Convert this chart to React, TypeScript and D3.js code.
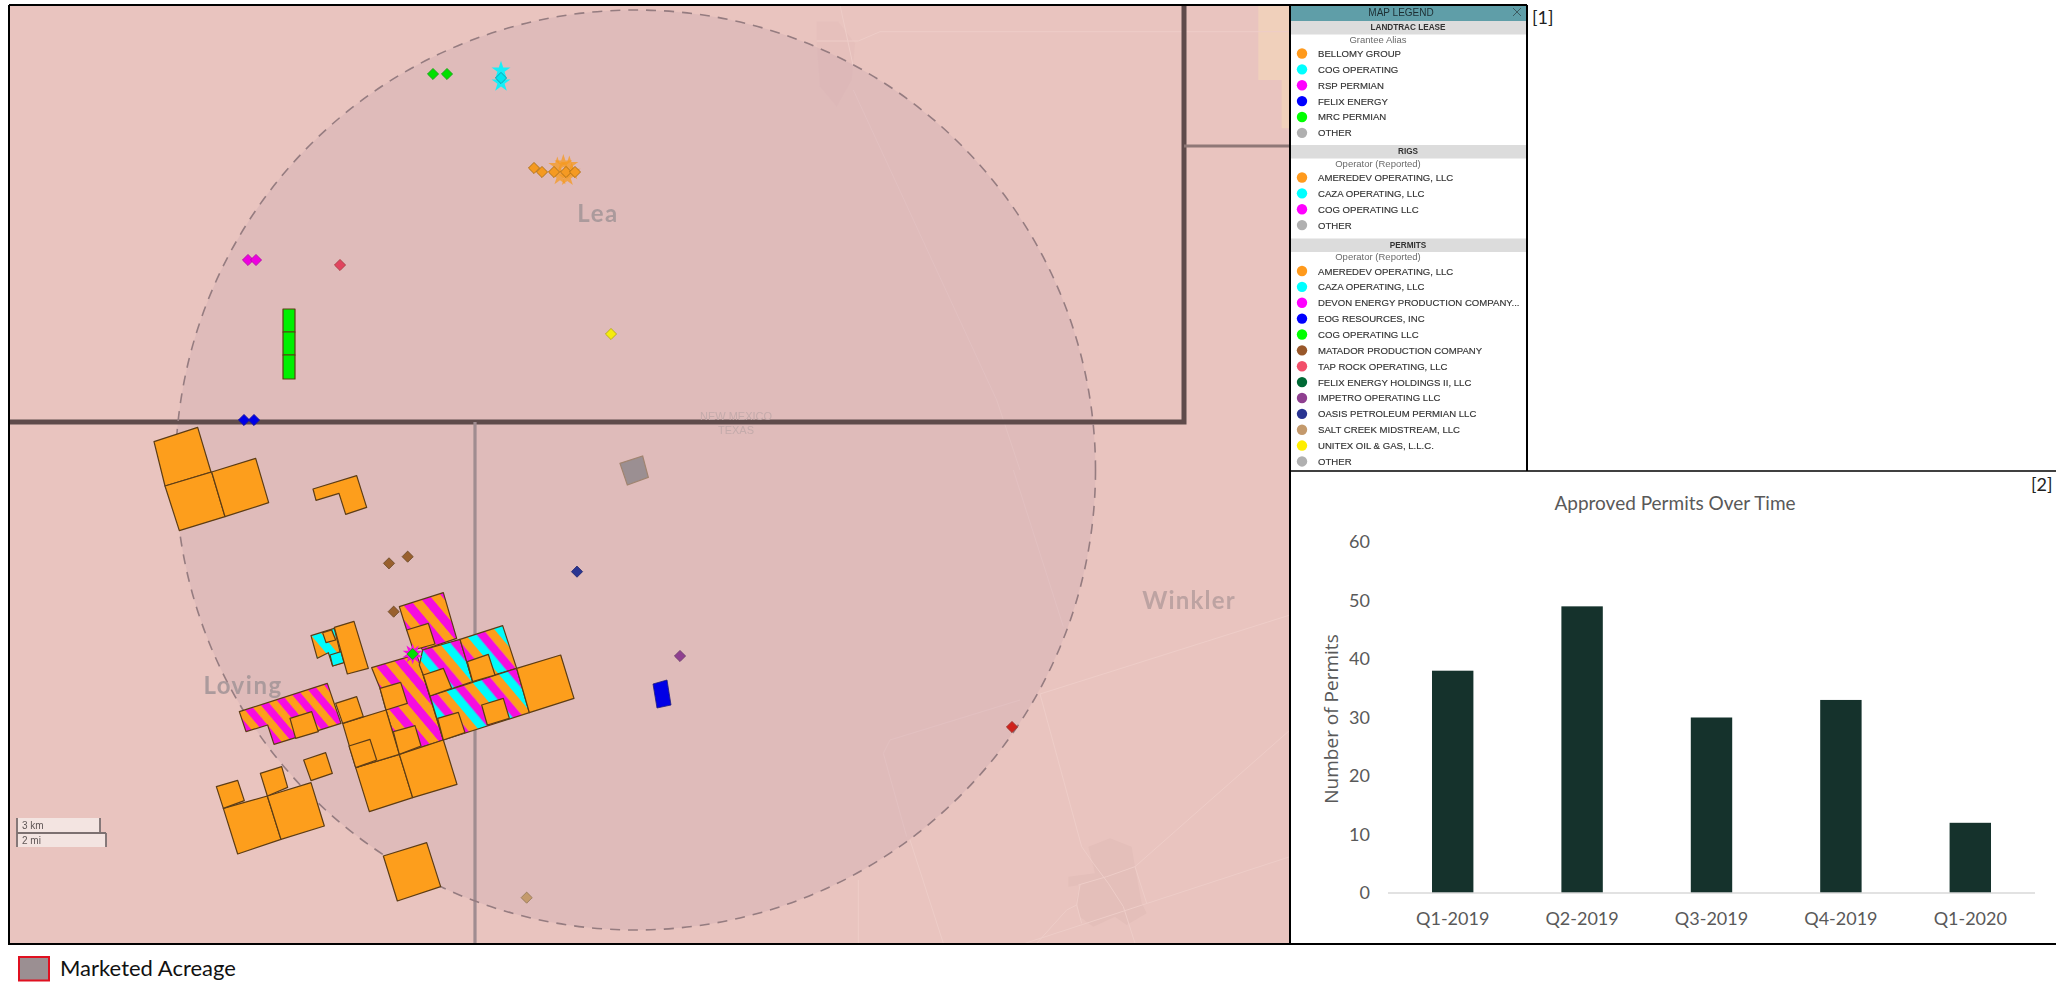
import React from "react";
import * as d3 from "d3";

type Pt = [number, number];

// ---- bar chart data
const quarters = ["Q1-2019", "Q2-2019", "Q3-2019", "Q4-2019", "Q1-2020"];
const permitCounts = [38, 49, 30, 33, 12];
const yTicks = [0, 10, 20, 30, 40, 50, 60];

// ---- legend data
const leaseLabels = ["BELLOMY GROUP", "COG OPERATING", "RSP PERMIAN", "FELIX ENERGY", "MRC PERMIAN", "OTHER"];
const leaseColors = ["#ff9a1f", "#00ffff", "#ff00ff", "#0000ff", "#00ff00", "#b0b0b0"];
const rigLabels = ["AMEREDEV OPERATING, LLC", "CAZA OPERATING, LLC", "COG OPERATING LLC", "OTHER"];
const rigColors = ["#ff9a1f", "#00ffff", "#ff00ff", "#b0b0b0"];
const permitLabels = [
  "AMEREDEV OPERATING, LLC", "CAZA OPERATING, LLC", "DEVON ENERGY PRODUCTION COMPANY...", "EOG RESOURCES, INC",
  "COG OPERATING LLC", "MATADOR PRODUCTION COMPANY", "TAP ROCK OPERATING, LLC", "FELIX ENERGY HOLDINGS II, LLC",
  "IMPETRO OPERATING LLC", "OASIS PETROLEUM PERMIAN LLC", "SALT CREEK MIDSTREAM, LLC", "UNITEX OIL & GAS, L.L.C.", "OTHER",
];
const permitColors = ["#ff9a1f", "#00ffff", "#ff00ff", "#0000ff", "#00ff00", "#99582a", "#f2506a", "#006a36", "#8f3f90", "#2b3492", "#c49a6c", "#ffee00", "#b0b0b0"];

// ---- map geometry, in survey grid units
const bellomySolid: Pt[][] = [
  [[12, 65], [143, 22], [183, 156], [45, 198]],
  [[45, 198], [185, 156], [225, 290], [88, 332]],
  [[185, 156], [317, 115], [356, 248], [225, 290]],
  [[489, 207], [620, 167], [650, 262], [587, 283], [567, 220], [498, 241]],
  [[700, 1308], [830, 1268], [872, 1400], [742, 1443]],
  [[220, 1165], [352, 1128], [393, 1258], [263, 1302]],
  [[352, 1128], [483, 1088], [523, 1218], [393, 1258]],
  [[199, 1100], [263, 1081], [283, 1142], [220, 1165]],
  [[331, 1060], [395, 1040], [413, 1102], [352, 1128]],
  [[461, 1020], [527, 998], [547, 1060], [483, 1082]],
  [[617, 1043], [748, 1003], [788, 1133], [658, 1175]],
  [[748, 1003], [880, 960], [921, 1093], [788, 1133]],
  [[578, 910], [708, 870], [748, 1003], [617, 1043]],
  [[557, 850], [620, 830], [640, 890], [578, 910]],
  [[1100, 745], [1232, 705], [1272, 835], [1138, 878]],
  [[553, 622], [612, 604], [655, 745], [592, 762]],
];
const westStriped: Pt[][] = [
  [[268, 875], [532, 790], [573, 910], [437, 953], [372, 973], [353, 915], [288, 935]],
];
const centralStriped: Pt[][] = [
  [[665, 743], [800, 703], [880, 960], [748, 1003], [708, 870], [690, 805]],
];
const northStriped: Pt[][] = [
  [[748, 560], [880, 518], [920, 655], [818, 690], [770, 630]],
];
const eastStriped: Pt[][] = [
  [[818, 690], [930, 658], [968, 785], [840, 828], [820, 765], [808, 735]],
  [[930, 658], [1058, 617], [1100, 745], [968, 785]],
  [[840, 828], [1100, 745], [1138, 878], [880, 960]],
];
const cogSmall: Pt[][] = [
  [[483, 647], [553, 625], [578, 728], [548, 738], [535, 698], [502, 715]],
];
const overlaySquares: Pt[][] = [
  [[420, 895], [485, 875], [505, 935], [437, 955]],
  [[690, 805], [752, 787], [772, 850], [708, 870]],
  [[730, 935], [795, 917], [813, 978], [748, 1003]],
  [[597, 978], [660, 958], [680, 1020], [617, 1043]],
  [[770, 630], [835, 610], [855, 672], [790, 690]],
  [[820, 765], [880, 745], [905, 805], [840, 828]],
  [[952, 725], [1015, 703], [1035, 765], [968, 785]],
  [[995, 855], [1060, 835], [1078, 895], [1012, 915]],
  [[863, 895], [925, 877], [945, 938], [880, 960]],
  [[518, 638], [545, 630], [557, 660], [528, 668]],
];
const cogCorner: Pt[][] = [[[540, 705], [573, 695], [582, 728], [548, 738]]];
const marketedTract: Pt[] = [[1410, 130], [1478, 108], [1495, 172], [1432, 195]];
const mrcBlocks: Pt[][] = [
  [[399, -333], [435, -333], [435, -264], [399, -264]],
  [[399, -264], [435, -264], [435, -195], [399, -195]],
  [[399, -195], [435, -195], [435, -123], [399, -123]],
];
const felixTract: Pt[] = [[1509, 792], [1551, 780], [1563, 855], [1521, 864]];

// permit wells: [x, y] per operator
const wellsCog: Pt[] = [[849, -1038], [891, -1038]];
const wellsCaza: Pt[] = [[1053, -1026]];
const wellsAmeredev: Pt[] = [[1152, -756], [1176, -744], [1212, -744], [1248, -744], [1275, -744]];
const wellsDevon: Pt[] = [[294, -480], [318, -480]];
const wellsTapRock: Pt[] = [[570, -465]];
const wellsUnitex: Pt[] = [[1383, -258]];
const wellsEog: Pt[] = [[282, 0], [312, 0]];
const wellsMatador: Pt[] = [[717, 430], [773, 410], [731, 575]];
const wellsOasis: Pt[] = [[1281, 455]];
const wellsImpetro: Pt[] = [[1590, 708]];
const wellsSalt: Pt[] = [[1130, 1433]];
const wellsRed: Pt[] = [[2586, 921]];
const wellsCenter: Pt[] = [[788, 702]];
const rigsAmeredev: Pt[] = [[1222, -762], [1240, -770], [1258, -765], [1230, -730], [1252, -728], [1265, -745]];
const rigsCaza: Pt[] = [[1053, -1048], [1053, -1012]];
const rigsCog: Pt[] = [[788, 702]];

// basemap roads, in survey grid units of the east sheet
const roadsEast: Pt[][] = [
  [[780, 672], [1530, 435]],
  [[780, 672], [905, 1130], [940, 1180], [985, 1240], [1030, 1310], [1065, 1420]],
  [[1530, 780], [1065, 1190], [1100, 1300]],
  [[895, 1245], [980, 1220], [1065, 1190]],
  [[735, 1420], [1530, 1160]],
  [[770, 1420], [860, 1320], [890, 1305]],
  [[900, 1245], [890, 1305], [905, 1360]],
  [[390, 1110], [490, 1420]],
  [[235, 1230], [235, 1420]],
  [[700, 0], [850, 470]],
  [[720, 690], [330, 810], [310, 850], [380, 1100]],
];
const townEast: Pt[][] = [
  [[925, 1130], [990, 1105], [1055, 1130], [1065, 1190], [1085, 1300], [1100, 1330], [1040, 1365], [1005, 1340], [940, 1370], [900, 1340], [890, 1290], [900, 1245], [865, 1250], [865, 1220], [945, 1210]],
];
const roadsNorth: Pt[][] = [
  [[180, 15], [220, 200]],
  [[110, 123], [235, 123], [300, 95], [1530, 95]],
  [[220, 270], [650, 1200], [720, 1410]],
];
const townNorth: Pt[][] = [[[110, 65], [175, 65], [225, 130], [215, 240], [170, 320], [120, 260], [110, 125]]];
const peachNorth: Pt[][] = [[[1435, 15], [1530, 15], [1530, 385], [1505, 385], [1505, 240], [1435, 240]]];

// ---- scales
const gridX = d3.scaleLinear().domain([0, 1500]).range([150, 650]);
const gridY = d3.scaleLinear().domain([0, 1500]).range([420, 920]);
const eastX = d3.scaleLinear().domain([0, 1545]).range([780, 1295]);
const eastY = d3.scaleLinear().domain([0, 1440]).range([470, 950]);
const northY = d3.scaleLinear().domain([0, 1410]).range([0, 470]);
const barX = d3.scaleBand<string>().domain(quarters).range([1388, 2035]).paddingInner(0.68).paddingOuter(0.34);
const barY = d3.scaleLinear().domain([0, 60]).range([893, 542]);

const gridPath = d3.line<Pt>().x((d) => gridX(d[0])).y((d) => gridY(d[1]));
const closeGrid = (p: Pt[]) => gridPath(p) + "Z";
const eastPath = d3.line<Pt>().x((d) => eastX(d[0])).y((d) => eastY(d[1]));
const northPath = d3.line<Pt>().x((d) => eastX(d[0])).y((d) => northY(d[1]));

const diamond = d3.symbol().type(d3.symbolSquare).size(62)() as string;
const starFor = (s: number) => d3.symbol().type(d3.symbolStar).size(s)() as string;

const TRACT = "#5c3c14";
const ORANGE = "#fd9e1d";
const MAGENTA = "#f50fe0";
const CYAN = "#00fbfb";
const SANS = "'Liberation Sans', Arial, sans-serif";
const CAL = "Lato, 'Open Sans', sans-serif";

function Stripes({ id, tx, period, colors }: { id: string; tx: number; period: number; colors: string[] }) {
  const w = period / colors.length;
  return (
    <pattern id={id} patternUnits="userSpaceOnUse" width={period} height={10} patternTransform={`rotate(-40) translate(${tx},0)`}>
      {colors.map((c, i) => (
        <rect key={i} x={i * w} y={0} width={w + 0.3} height={10} fill={c} />
      ))}
    </pattern>
  );
}

function Tracts({ polys, fill }: { polys: Pt[][]; fill: string }) {
  return (
    <g fill={fill} stroke={TRACT} strokeWidth={1.2} strokeLinejoin="round">
      {polys.map((p, i) => (
        <path key={i} d={closeGrid(p)} />
      ))}
    </g>
  );
}

function Wells({ pts, color, edge }: { pts: Pt[]; color: string; edge: string }) {
  return (
    <g fill={color} stroke={edge} strokeWidth={0.8}>
      {pts.map((p, i) => (
        <path key={i} d={diamond} transform={`translate(${gridX(p[0])},${gridY(p[1])}) rotate(45)`} />
      ))}
    </g>
  );
}

function Rigs({ pts, color, opacity, size, turn = 0 }: { pts: Pt[]; color: string; opacity: number; size: number; turn?: number }) {
  const star = starFor(size);
  return (
    <g fill={color} fillOpacity={opacity}>
      {pts.map((p, i) => (
        <path key={i} d={star} transform={`translate(${gridX(p[0])},${gridY(p[1])}) rotate(${turn})`} />
      ))}
    </g>
  );
}

function LegendSection({ title, sub, labels, colors, top, subX }: { title: string; sub: string; labels: string[]; colors: string[]; top: number; subX: number }) {
  const STEP = 15.87;
  return (
    <g>
      <rect x={1291} y={top} width={236} height={13.5} fill="#dcdcdc" />
      <text x={1408} y={top + 9} textAnchor="middle" fontFamily={SANS} fontSize={8.2} fontWeight={700} fill="#333">{title}</text>
      <text x={subX} y={top + 21.5} textAnchor="middle" fontFamily={SANS} fontSize={9.5} fill="#6a6a6a">{sub}</text>
      {labels.map((l, i) => {
        const cy = top + 32.5 + i * STEP;
        return (
          <g key={l + i}>
            <circle cx={1302} cy={cy} r={5.2} fill={colors[i]} />
            <text x={1318} y={cy + 3.5} fontFamily={SANS} fontSize={9.6} fill="#333" stroke="#333" strokeWidth={0.15}>{l}</text>
          </g>
        );
      })}
    </g>
  );
}

export default function App() {
  return (
    <svg width={2056} height={983} viewBox="0 0 2056 983" style={{ position: "absolute", left: 0, top: 0, display: "block", background: "#fff" }}>
      <defs>
        <clipPath id="mapClip"><rect x={9} y={6} width={1281} height={938} /></clipPath>
        <filter id="soft" x="0" y="0" width="1" height="1"><feGaussianBlur stdDeviation={0.45} /></filter>
        <filter id="softer" x="0" y="0" width="1" height="1"><feGaussianBlur stdDeviation={0.25} /></filter>
        <Stripes id="stripeWest" tx={6.7} period={15.3} colors={[MAGENTA, ORANGE]} />
        <Stripes id="stripeCentral" tx={0.5} period={17.6} colors={[MAGENTA, ORANGE]} />
        <Stripes id="stripeNorth" tx={7.9} period={17.6} colors={[MAGENTA, ORANGE]} />
        <Stripes id="stripeEast" tx={-0.3} period={25.5} colors={[CYAN, MAGENTA, ORANGE]} />
        <Stripes id="stripeCog" tx={6} period={17.6} colors={[CYAN, ORANGE]} />
      </defs>

      {/* map */}
      <g clipPath="url(#mapClip)" filter="url(#soft)">
        <rect x={9} y={6} width={1281} height={938} fill="#e9c4bf" />
        {peachNorth.map((p, i) => <path key={i} d={northPath(p) + "Z"} fill="#f0d0bb" />)}
        {townNorth.map((p, i) => <path key={i} d={northPath(p) + "Z"} fill="#e3bdb8" opacity={0.45} />)}
        {townEast.map((p, i) => <path key={i} d={eastPath(p) + "Z"} fill="#e4bfba" />)}
        <g fill="none" stroke="#eecdc8" strokeWidth={1}>
          {roadsEast.map((p, i) => <path key={i} d={eastPath(p) as string} />)}
          {roadsNorth.map((p, i) => <path key={i} d={northPath(p) as string} />)}
        </g>

        <circle cx={635.5} cy={470} r={460} fill="#c9a9b0" fillOpacity={0.32} />

        <g fill="none" stroke="#5e4c4c">
          <path d="M9,422H1184V6" strokeWidth={5} />
          <path d="M1184,146H1290" strokeWidth={3} stroke="#8f7877" />
          <path d="M475,422V944" strokeWidth={3.2} stroke="#a08c90" />
        </g>
        <circle cx={635.5} cy={470} r={460} fill="none" stroke="#957c80" strokeWidth={1.6} strokeDasharray="10 8" />

        <text x={598} y={222} textAnchor="middle" fontFamily={CAL} fontSize={24} fontWeight={700} letterSpacing={1.5} fill="#ab9a9c">Lea</text>
        <text x={243} y={694} textAnchor="middle" fontFamily={CAL} fontSize={24} fontWeight={700} letterSpacing={1.5} fill="#ab9a9c">Loving</text>
        <text x={1189} y={609} textAnchor="middle" fontFamily={CAL} fontSize={24} fontWeight={700} letterSpacing={1.2} fill="#bda3a2">Winkler</text>
        <text x={736} y={420} textAnchor="middle" fontFamily={SANS} fontSize={11} fill="#c4abab">NEW MEXICO</text>
        <text x={736} y={434} textAnchor="middle" fontFamily={SANS} fontSize={11} fill="#c4abab">TEXAS</text>

        <Tracts polys={westStriped} fill="url(#stripeWest)" />
        <Tracts polys={centralStriped} fill="url(#stripeCentral)" />
        <Tracts polys={northStriped} fill="url(#stripeNorth)" />
        <Tracts polys={eastStriped} fill="url(#stripeEast)" />
        <Tracts polys={cogSmall} fill="url(#stripeCog)" />
        <Tracts polys={cogCorner} fill={CYAN} />
        <Tracts polys={bellomySolid} fill={ORANGE} />
        <Tracts polys={overlaySquares} fill={ORANGE} />
        <Tracts polys={mrcBlocks} fill="#00f000" />
        <path d={closeGrid(felixTract)} fill="#0000e6" stroke="#20207a" strokeWidth={0.8} />
        <path d={closeGrid(marketedTract)} fill="#9b8f92" stroke="#a08470" strokeWidth={1.2} />

        <Rigs pts={rigsCaza} color="#00f5ff" opacity={0.9} size={110} />
        <Rigs pts={rigsAmeredev} color="#f59a20" opacity={0.75} size={100} />
        <Rigs pts={rigsCog} color={MAGENTA} opacity={1} size={125} />
        <Rigs pts={rigsCog} color={MAGENTA} opacity={1} size={125} turn={36} />

        <Wells pts={wellsCog} color="#00e000" edge="#1d9a1d" />
        <Wells pts={wellsCaza} color="#00e8f0" edge="#1090a0" />
        <Wells pts={wellsAmeredev} color="#f59a20" edge="#a86a10" />
        <Wells pts={wellsDevon} color="#ee00e0" edge="#b010a0" />
        <Wells pts={wellsTapRock} color="#e0455f" edge="#a83a40" />
        <Wells pts={wellsUnitex} color="#f5ec10" edge="#b0a810" />
        <Wells pts={wellsEog} color="#0000e8" edge="#1010a0" />
        <Wells pts={wellsMatador} color="#99602e" edge="#6a4a2a" />
        <Wells pts={wellsOasis} color="#2b3492" edge="#23296e" />
        <Wells pts={wellsImpetro} color="#8f3f90" edge="#6a3a6a" />
        <Wells pts={wellsSalt} color="#c49a6c" edge="#957a5a" />
        <Wells pts={wellsRed} color="#d0221e" edge="#9a2a26" />
        <Wells pts={wellsCenter} color="#00e000" edge="#1d9a1d" />

        {/* scale bar */}
        <rect x={18} y={818} width={82} height={15} fill="#f3e4e1" />
        <rect x={18} y={834} width={88} height={13} fill="#f3e4e1" />
        <path d="M17,818V847M17,833H106M100,818V833M106,833V847" fill="none" stroke="#7b6f70" strokeWidth={1.8} />
        <text x={22} y={829} fontFamily={SANS} fontSize={10} fill="#5f5656">3 km</text>
        <text x={22} y={844} fontFamily={SANS} fontSize={10} fill="#5f5656">2 mi</text>
      </g>

      {/* legend */}
      <g filter="url(#softer)">
        <rect x={1291} y={6} width={236} height={15} fill="#5f9ea8" />
        <text x={1401} y={15.6} textAnchor="middle" fontFamily={SANS} fontSize={10} fill="#1e2e33">MAP LEGEND</text>
        <path d="M1513,8L1521,16M1521,8L1513,16" stroke="#33494f" strokeWidth={0.8} />
        <LegendSection title="LANDTRAC LEASE" sub="Grantee Alias" labels={leaseLabels} colors={leaseColors} top={21} subX={1378} />
        <LegendSection title="RIGS" sub="Operator (Reported)" labels={rigLabels} colors={rigColors} top={145} subX={1378} />
        <LegendSection title="PERMITS" sub="Operator (Reported)" labels={permitLabels} colors={permitColors} top={238.5} subX={1378} />
      </g>

      {/* frames */}
      <g fill="none" stroke="#000" strokeWidth={2}>
        <path d="M9,5H1527" />
        <path d="M9,5V944H2056" />
        <path d="M1290,5V944" />
        <path d="M1527,5V471" />
        <path d="M1290,471H2056" strokeWidth={1.6} />
      </g>

      <text x={1532} y={24} fontFamily={CAL} fontSize={18} fill="#222">[1]</text>
      <text x={2031} y={491} fontFamily={CAL} fontSize={18} fill="#222">[2]</text>

      {/* bar chart */}
      <text x={1675} y={510} textAnchor="middle" fontFamily={CAL} fontSize={19} fill="#595959">Approved Permits Over Time</text>
      <g fontFamily={CAL} fontSize={18} fill="#595959">
        {yTicks.map((t) => (
          <text key={t} x={1370} y={barY(t) + 6} textAnchor="end">{t}</text>
        ))}
        {quarters.map((q) => (
          <text key={q} x={(barX(q) as number) + barX.bandwidth() / 2} y={925} textAnchor="middle">{q}</text>
        ))}
      </g>
      <text transform={`translate(1338,719) rotate(-90)`} textAnchor="middle" fontFamily="'Open Sans', sans-serif" fontSize={19} fill="#595959">Number of Permits</text>
      {quarters.map((q, i) => (
        <rect key={q} x={barX(q)} y={barY(permitCounts[i])} width={barX.bandwidth()} height={barY(0) - barY(permitCounts[i])} fill="#15322c" />
      ))}
      <path d={`M1388,${barY(0)}H2035`} stroke="#d9d9d9" strokeWidth={1.5} fill="none" />

      {/* bottom key */}
      <rect x={19} y={957} width={30} height={23.5} fill="#9b8f92" stroke="#e01020" strokeWidth={2} />
      <text x={60} y={976} fontFamily={CAL} fontSize={22} fill="#111">Marketed Acreage</text>
    </svg>
  );
}
